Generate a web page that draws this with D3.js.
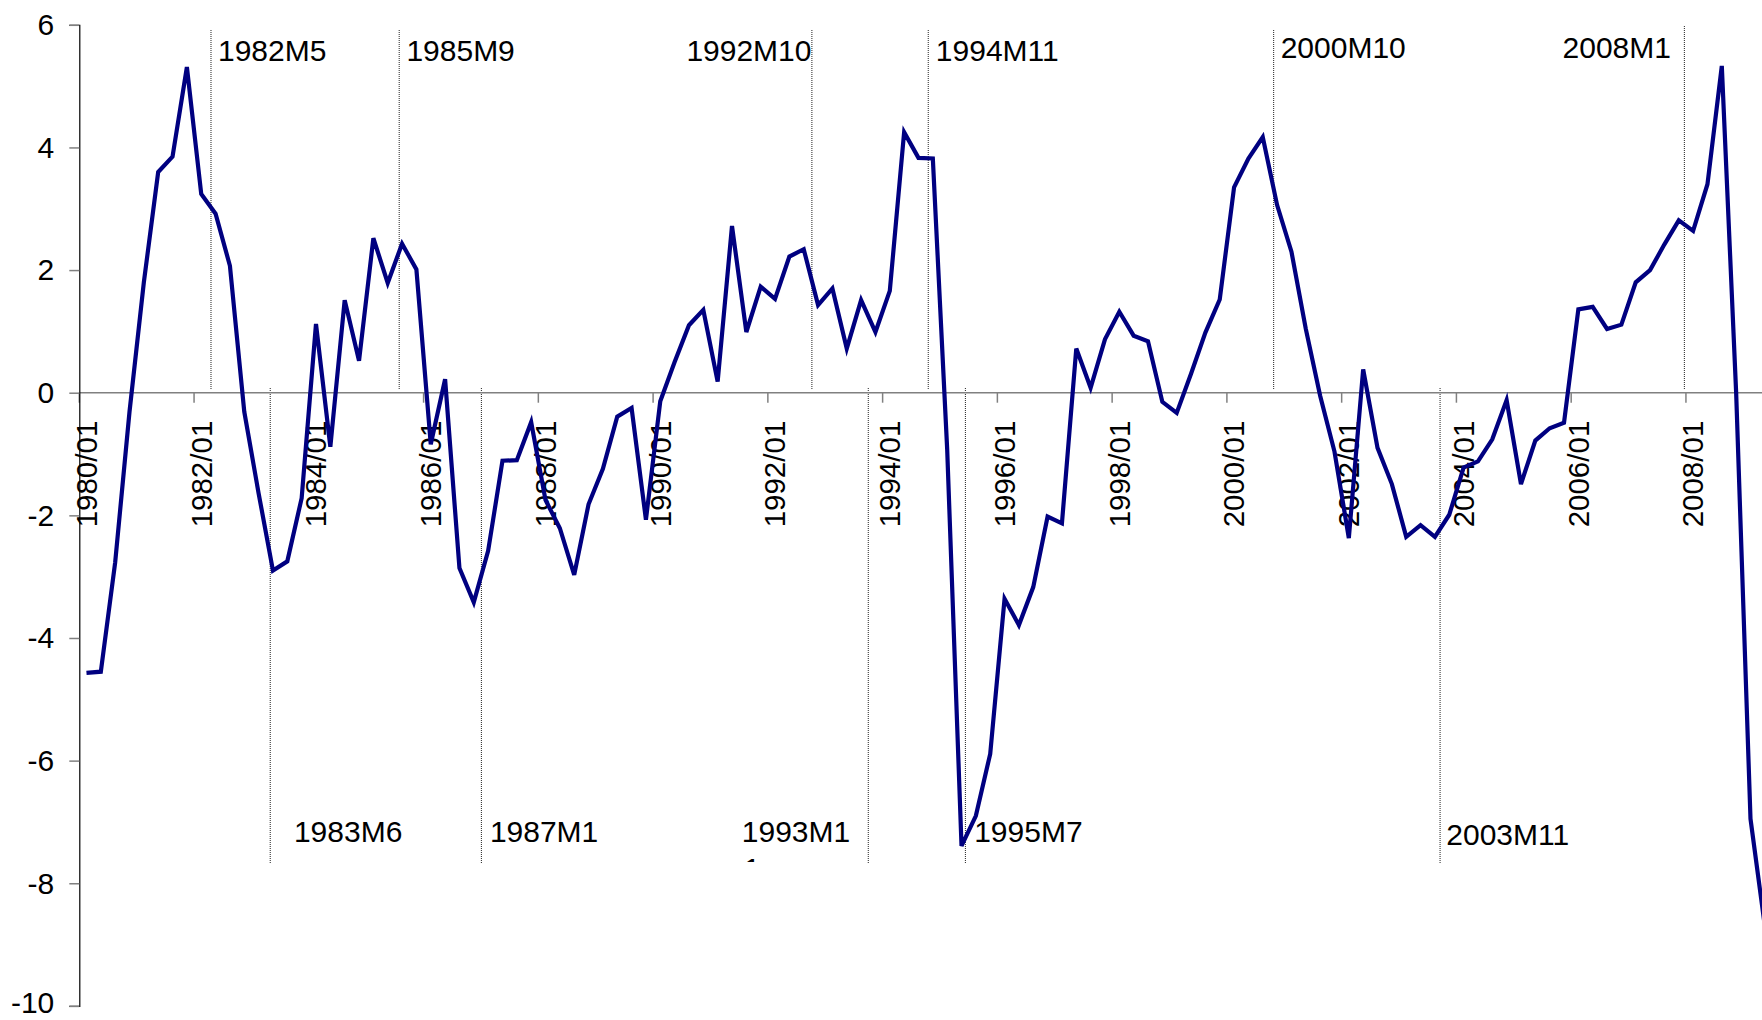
<!DOCTYPE html>
<html>
<head>
<meta charset="utf-8">
<script src="https://cdn.jsdelivr.net/npm/d3@7"></script>
<style>
  html, body { margin: 0; padding: 0; background: #ffffff; }
  svg { display: block; }
  text { font-family: "Liberation Sans", Arial, sans-serif; fill: #000; }
</style>
</head>
<body>
<svg id="chart" width="1762" height="1020"></svg>
<script>
// ---------------- DATA ----------------
const startYear = 1980;
const quarterMonths = ["01", "04", "07", "10"];

// Quarterly series, 1980/01 .. 2009/04
const seriesValues = [
  -4.57, -4.55, -2.77, -0.31, 1.80, 3.60, 3.85, 5.31,
   3.24,  2.92,  2.07, -0.31, -1.64, -2.90, -2.75, -1.72,
   1.12, -0.88,  1.51,  0.52,  2.52,  1.79,  2.43,  2.01,
  -0.84,  0.22, -2.86, -3.42, -2.58, -1.11, -1.10, -0.48,
  -1.75, -2.21, -2.97, -1.82, -1.24, -0.39, -0.25, -2.07,
  -0.14,  0.50,  1.10,  1.35,  0.18,  2.72,  0.99,  1.73,
   1.53,  2.22,  2.34,  1.43,  1.70,  0.72,  1.51,  0.99,
   1.66,  4.25,  3.83,  3.82, -0.92, -7.39, -6.90, -5.89,
  -3.36, -3.79, -3.17, -2.02, -2.13,  0.72,  0.08,  0.87,
   1.32,  0.93,  0.84, -0.15, -0.33,  0.31,  0.98,  1.52,
   3.35,  3.82,  4.17,  3.06,  2.30,  1.04, -0.05, -0.96,
  -2.37,  0.38, -0.90, -1.49, -2.35, -2.16, -2.35, -1.99,
  -1.22, -1.12, -0.76, -0.12, -1.49, -0.78, -0.58, -0.49,
   1.36,  1.40,  1.04,  1.11,  1.80,  2.00,  2.42,  2.81,
   2.64,  3.40,  5.33,  0.00, -6.95, -8.70
];

// category labels (one per quarter)
const categories = seriesValues.map((v, i) =>
  (startYear + Math.floor(i / 4)) + "/" + quarterMonths[i % 4]);

// x tick labels shown (every 8th category)
const xTickLabels = ["1980/01","1982/01","1984/01","1986/01","1988/01","1990/01","1992/01",
  "1994/01","1996/01","1998/01","2000/01","2002/01","2004/01","2006/01","2008/01"];

// y ticks
const yTickValues = [6, 4, 2, 0, -2, -4, -6, -8, -10];

// event markers: label and position in quarter units from 1980/01
const eventLabels = ["1982M5", "1985M9", "1992M10", "1994M11", "2000M10", "2008M1",
                     "1983M6", "1987M1", "1993M11", "1995M7", "2003M11"];
const eventPositions = [9.18, 22.30, 51.07, 59.18, 83.26, 111.89,
                        13.31, 28.03, 55.00, 61.77, 94.86];

// ---------------- LAYOUT ----------------
const x0 = 79.3, step = 14.345;
const svg = d3.select("#chart");
const W = 1762, H = 1020;

svg.append("rect").attr("width", W).attr("height", H).attr("fill", "#fff");

const nCat = categories.length;
const x = d3.scaleLinear().domain([0, nCat]).range([x0, x0 + nCat * step]);
const xBand = d3.scaleBand().domain(categories).range([x0, x0 + nCat * step]).padding(0);
const y = d3.scaleLinear().domain([-10, 6]).range([1005.9, 24.8]);

// event label layout (dx from line, anchor, baseline y, line extent)
const eventLayout = {
  "1982M5":  { dx: 7,    anchor: "start", by: 61,    y1: 30, y2: 389 },
  "1985M9":  { dx: 7.2,  anchor: "start", by: 61,    y1: 30, y2: 389 },
  "1992M10": { dx: -0.4, anchor: "end",   by: 61,    y1: 30, y2: 389 },
  "1994M11": { dx: 7.6,  anchor: "start", by: 61,    y1: 30, y2: 389 },
  "2000M10": { dx: 7,    anchor: "start", by: 58,    y1: 30, y2: 389 },
  "2008M1":  { dx: -13.4,anchor: "end",   by: 58,    y1: 26, y2: 389 },
  "1983M6":  { dx: 23.7, anchor: "start", by: 841.6, y1: 388, y2: 863 },
  "1987M1":  { dx: 8.5,  anchor: "start", by: 841.6, y1: 388, y2: 863 },
  "1993M11": { dx: -126.5,anchor:"start", by: 841.6, y1: 388, y2: 863, wrap: true },
  "1995M7":  { dx: 8.8,  anchor: "start", by: 841.6, y1: 388, y2: 863 },
  "2003M11": { dx: 6.2,  anchor: "start", by: 845,   y1: 388, y2: 863 }
};

// ---------------- EVENT LINES ----------------
const evG = svg.append("g");
eventLabels.forEach((lab, k) => {
  const L = eventLayout[lab];
  const xp = x(eventPositions[k]);
  evG.append("line")
    .attr("x1", xp).attr("x2", xp).attr("y1", L.y1).attr("y2", L.y2)
    .attr("stroke", "#222").attr("stroke-width", 1).attr("stroke-dasharray", "1,1");
  if (L.wrap) {
    // text box wraps: last character on the second line, clipped by the box
    const id = "clip" + k;
    svg.append("defs").append("clipPath").attr("id", id)
      .append("rect").attr("x", xp + L.dx - 5).attr("y", 800).attr("width", 140).attr("height", 62);
    const g = evG.append("g").attr("clip-path", "url(#" + id + ")");
    g.append("text").attr("x", xp + L.dx).attr("y", L.by)
      .attr("font-size", 30).attr("text-anchor", "start").text(lab.slice(0, lab.length - 1));
    g.append("text").attr("x", xp + L.dx + 2).attr("y", L.by + 37)
      .attr("font-size", 30).attr("text-anchor", "start").text(lab.slice(-1));
  } else {
    evG.append("text").attr("x", xp + L.dx).attr("y", L.by)
      .attr("font-size", 30).attr("text-anchor", L.anchor).text(lab);
  }
});

// ---------------- AXES ----------------
// x axis at y = 0
const xAxisG = svg.append("g").attr("transform", `translate(0,${y(0)})`);
xAxisG.append("line").attr("x1", x0).attr("x2", W + 20).attr("y1", 0).attr("y2", 0)
  .attr("stroke", "#808080").attr("stroke-width", 1.5);
xTickLabels.forEach(lab => {
  const bx = xBand(lab);
  xAxisG.append("line").attr("x1", bx).attr("x2", bx).attr("y1", 0).attr("y2", 10)
    .attr("stroke", "#808080").attr("stroke-width", 1.5);
  const cx = bx + xBand.bandwidth() / 2;
  xAxisG.append("text")
    .attr("transform", `translate(${cx},28) rotate(-90)`)
    .attr("text-anchor", "end").attr("dy", "0.35em")
    .attr("font-size", 29.5).text(lab);
});

// y axis
const yAxis = d3.axisLeft(y).tickValues(yTickValues).tickSize(10).tickPadding(15)
  .tickFormat(d3.format("d"));
const yG = svg.append("g").attr("transform", `translate(${x0},0)`).call(yAxis);
yG.select(".domain").attr("stroke", "#000").attr("stroke-width", 1.2);
yG.selectAll(".tick line").attr("stroke", "#808080").attr("stroke-width", 1.5);
yG.selectAll(".tick text").attr("font-size", 30)
  .attr("font-family", "'Liberation Sans', Arial, sans-serif").attr("fill", "#000")
  .attr("dy", d => d === -10 ? "0.22em" : "0.33em")
  .text(d => d < 0 ? "-" + Math.abs(d) : d);

// ---------------- SERIES LINE ----------------
const line = d3.line()
  .x((d, i) => xBand(categories[i]) + xBand.bandwidth() / 2)
  .y(d => y(d));
svg.append("path").datum(seriesValues)
  .attr("d", line).attr("fill", "none")
  .attr("stroke", "#000080").attr("stroke-width", 4.2)
  .attr("stroke-linejoin", "miter").attr("stroke-miterlimit", 4);
</script>
</body>
</html>
